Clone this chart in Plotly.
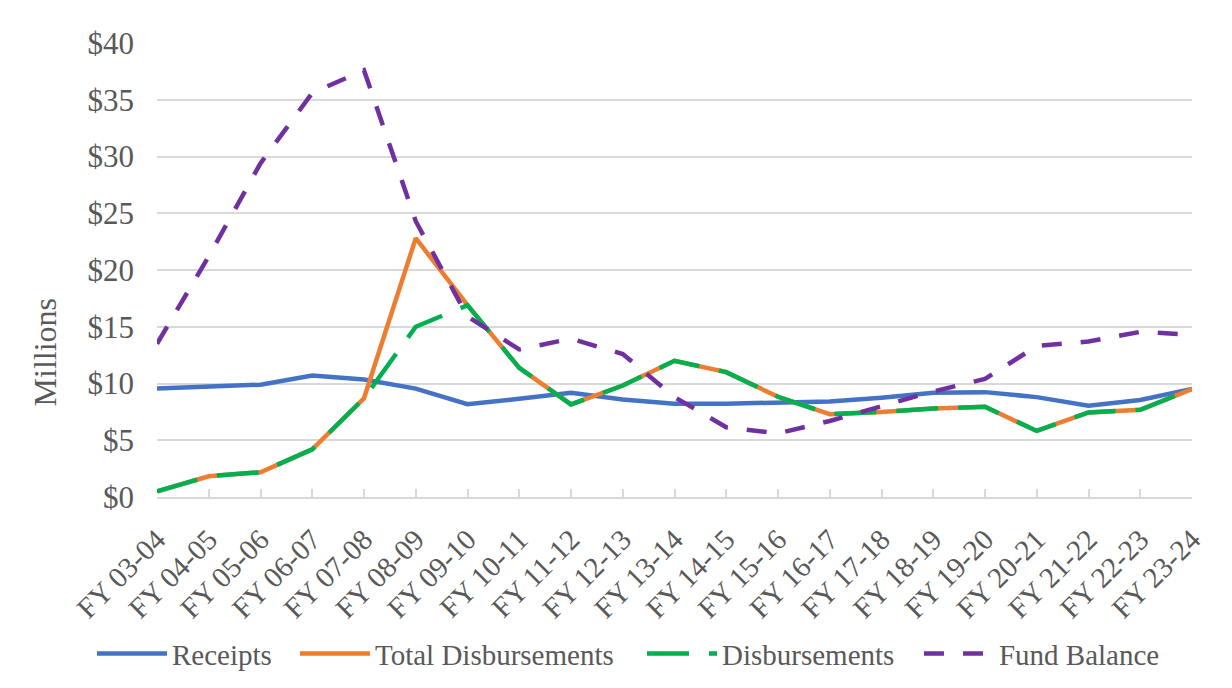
import plotly.graph_objects as go

categories = ["FY 03-04", "FY 04-05", "FY 05-06", "FY 06-07", "FY 07-08", "FY 08-09",
              "FY 09-10", "FY 10-11", "FY 11-12", "FY 12-13", "FY 13-14", "FY 14-15",
              "FY 15-16", "FY 16-17", "FY 17-18", "FY 18-19", "FY 19-20", "FY 20-21",
              "FY 21-22", "FY 22-23", "FY 23-24"]

receipts = [9.55, 9.7, 9.9, 10.7, 10.35, 9.55, 8.17, 8.65, 9.18, 8.6, 8.22, 8.22,
            8.3, 8.42, 8.75, 9.18, 9.24, 8.8, 8.04, 8.54, 9.53]
total_disbursements = [0.5, 1.83, 2.18, 4.2, 8.7, 22.8, 16.9, 11.37, 8.16, 9.82, 12.0, 11.0,
                       8.83, 7.3, 7.5, 7.8, 7.95, 5.82, 7.45, 7.68, 9.5]
disbursements = [0.5, 1.83, 2.18, 4.2, 8.7, 15.0, 16.9, 11.37, 8.16, 9.82, 12.0, 11.0,
                 8.83, 7.3, 7.5, 7.8, 7.95, 5.82, 7.45, 7.68, 9.5]
fund_balance = [13.5, 21.2, 29.4, 35.6, 37.6, 24.3, 15.9, 13.0, 13.95, 12.6, 8.8, 6.15,
                5.6, 6.7, 8.0, 9.3, 10.4, 13.3, 13.7, 14.55, 14.3]

y_ticks = [0, 5, 10, 15, 20, 25, 30, 35, 40]
y_tick_labels = ["$0", "$5", "$10", "$15", "$20", "$25", "$30", "$35", "$40"]

FONT = "Liberation Serif, Times New Roman, serif"
TXT = "#595959"

fig = go.Figure()
fig.add_trace(go.Scatter(x=categories, y=receipts, name="Receipts", mode="lines",
                         legend="legend",
                         line=dict(color="#4472C4", width=4.5)))
fig.add_trace(go.Scatter(x=categories, y=total_disbursements, name="Total Disbursements",
                         mode="lines", legend="legend2",
                         line=dict(color="#ED7D31", width=4.5)))
fig.add_trace(go.Scatter(x=categories, y=disbursements, name="Disbursements", mode="lines",
                         legend="legend3",
                         line=dict(color="#00B050", width=4.5, dash="42px,20px")))
fig.add_trace(go.Scatter(x=categories, y=fund_balance, name="Fund Balance", mode="lines",
                         legend="legend4",
                         line=dict(color="#7030A0", width=4.5, dash="20px,19px")))


def legend_at(x):
    return dict(orientation="h", x=x, xanchor="left", y=-0.345, yanchor="middle",
                font=dict(size=29, color=TXT, family=FONT), itemwidth=70,
                bgcolor="rgba(0,0,0,0)")


fig.update_layout(
    width=1224, height=680,
    margin=dict(l=149, r=40, t=35, b=191, autoexpand=False),
    paper_bgcolor="white", plot_bgcolor="white",
    font=dict(family=FONT, size=29, color=TXT),
    showlegend=True,
    legend=legend_at(-0.0628),
    legend2=legend_at(0.1333),
    legend3=legend_at(0.4686),
    legend4=legend_at(0.7362),
    annotations=[dict(text="Millions", textangle=-90, xref="paper", yref="paper",
                      x=-0.108, y=0.319, xanchor="center", yanchor="middle",
                      showarrow=False, font=dict(size=32, color=TXT, family=FONT))],
)
fig.update_xaxes(
    type="category", range=[0, 20], tickangle=-45,
    showgrid=False, showline=True, linecolor="#d9d9d9", linewidth=2,
    ticks="inside", ticklen=8, tickwidth=2, tickcolor="#d9d9d9",
    ticklabelstandoff=12,
    tickfont=dict(size=29, color=TXT, family=FONT), automargin=False,
)
fig.update_yaxes(
    range=[0, 40], tickvals=y_ticks, ticktext=y_tick_labels,
    showgrid=True, gridcolor="#d9d9d9", gridwidth=2,
    zeroline=False, showline=False, ticks="", ticklabelstandoff=22,
    tickfont=dict(size=31, color=TXT, family=FONT), automargin=False,
)

fig.write_html("out.html")
